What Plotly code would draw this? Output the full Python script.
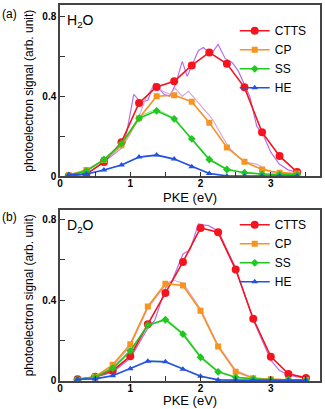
from plotly.subplots import make_subplots
import plotly.graph_objects as go

# ---- panel (a): H2O ----
pke_a = [0.125, 0.375, 0.625, 0.875, 1.125, 1.375, 1.625, 1.875, 2.125, 2.375, 2.625, 2.875, 3.125, 3.375]
ctts_a = [0.0, 0.01, 0.07, 0.17, 0.367, 0.447, 0.475, 0.555, 0.62, 0.563, 0.445, 0.22, 0.10, 0.02]
cp_a = [0.005, 0.03, 0.08, 0.155, 0.29, 0.40, 0.405, 0.373, 0.267, 0.143, 0.072, 0.033, 0.017, 0.013]
ss_a = [0.003, 0.025, 0.083, 0.163, 0.29, 0.327, 0.287, 0.187, 0.083, 0.033, 0.017, 0.01, 0.007, 0.007]
he_a = [0.007, 0.01, 0.03, 0.055, 0.095, 0.105, 0.085, 0.047, 0.013, 0.0, 0.0, 0.0, 0.0, 0.0]

# thin (unsmoothed) curves, panel (a)
fine_ctts_x_a = [0.125, 0.375, 0.625, 0.875, 0.95, 1.05, 1.15, 1.25, 1.34, 1.48, 1.56, 1.64, 1.74, 1.81,
                 1.97, 2.04, 2.15, 2.25, 2.35, 2.45, 2.54, 2.6, 2.7, 2.8, 2.9, 3.0, 3.12, 3.25, 3.375]
fine_ctts_a = [0.0, 0.01, 0.07, 0.14, 0.22, 0.41, 0.37, 0.38, 0.465, 0.41, 0.40, 0.455, 0.575, 0.50,
               0.63, 0.645, 0.61, 0.66, 0.59, 0.57, 0.525, 0.48, 0.40, 0.25, 0.20, 0.12, 0.06, 0.03, 0.02]
fine_cp_x_a = [0.125, 0.375, 0.625, 0.875, 1.0, 1.125, 1.22, 1.34, 1.46, 1.56, 1.64, 1.74, 1.83, 1.97,
               2.1, 2.16, 2.39, 2.55, 2.68, 2.8, 3.0, 3.375]
fine_cp_a = [0.005, 0.03, 0.08, 0.14, 0.21, 0.30, 0.39, 0.46, 0.425, 0.41, 0.44, 0.40, 0.425, 0.367,
             0.31, 0.29, 0.15, 0.09, 0.067, 0.06, 0.02, 0.01]
fine_ss_a = [0.003, 0.025, 0.08, 0.15, 0.30, 0.335, 0.29, 0.19, 0.085, 0.035, 0.017, 0.01, 0.006, 0.006]
fine_he_a = [0.007, 0.01, 0.03, 0.055, 0.095, 0.108, 0.087, 0.048, 0.015, 0.003, 0.0, 0.0, 0.0, 0.0]

# ---- panel (b): D2O ----
pke_b = [0.25, 0.5, 0.75, 1.0, 1.25, 1.5, 1.75, 2.0, 2.25, 2.5, 2.75, 3.0, 3.25, 3.5]
ctts_b = [0.005, 0.018, 0.048, 0.12, 0.28, 0.435, 0.59, 0.76, 0.738, 0.552, 0.307, 0.118, 0.032, 0.012]
cp_b = [0.002, 0.018, 0.077, 0.18, 0.368, 0.482, 0.473, 0.347, 0.168, 0.043, 0.01, 0.005, 0.002, 0.002]
ss_b = [0.005, 0.015, 0.06, 0.147, 0.275, 0.302, 0.23, 0.115, 0.042, 0.015, 0.007, 0.003, 0.003, 0.002]
he_b = [0.005, 0.007, 0.023, 0.057, 0.095, 0.092, 0.055, 0.02, 0.002, 0.0, 0.0, 0.0, 0.0, 0.0]

fine_ctts_x_b = [0.25, 0.5, 0.75, 1.0, 1.25, 1.35, 1.5, 1.6, 1.75, 1.85, 1.97, 2.12, 2.25, 2.5, 2.75,
                 3.0, 3.12, 3.25, 3.5]
fine_ctts_b = [0.005, 0.015, 0.04, 0.11, 0.26, 0.30, 0.46, 0.50, 0.63, 0.65, 0.78, 0.77, 0.745, 0.56, 0.30,
               0.10, 0.05, 0.025, 0.01]
fine_cp_x_b = [0.25, 0.5, 0.75, 1.0, 1.25, 1.5, 1.6, 1.75, 2.0, 2.25, 2.5, 2.75, 3.0, 3.25, 3.5]
fine_cp_b = [0.002, 0.018, 0.07, 0.17, 0.36, 0.475, 0.50, 0.485, 0.355, 0.175, 0.05, 0.012, 0.005, 0.002, 0.002]
fine_ss_b = [0.005, 0.015, 0.055, 0.14, 0.27, 0.31, 0.235, 0.12, 0.045, 0.015, 0.007, 0.003, 0.003, 0.002]
fine_he_b = [0.005, 0.007, 0.025, 0.06, 0.10, 0.095, 0.058, 0.022, 0.003, 0.0, 0.0, 0.0, 0.0, 0.0]

names = ["CTTS", "CP", "SS", "HE"]
colors = ["#f5141e", "#f7931e", "#1ec81e", "#2450e6"]
symbols = ["circle", "square", "diamond", "triangle-up"]
msizes = [8, 6, 6, 6]
fine_colors = ["#b86ee8", "#d8a8e4", "#98ec88", "#a8dcc8"]

FONT = "Liberation Sans, Arial, sans-serif"

fig = make_subplots(rows=2, cols=1, vertical_spacing=0.088)

panels = [
    (1, pke_a, [ctts_a, cp_a, ss_a, he_a],
     [(fine_ctts_x_a, fine_ctts_a), (fine_cp_x_a, fine_cp_a), (pke_a, fine_ss_a), (pke_a, fine_he_a)], "legend"),
    (2, pke_b, [ctts_b, cp_b, ss_b, he_b],
     [(fine_ctts_x_b, fine_ctts_b), (fine_cp_x_b, fine_cp_b), (pke_b, fine_ss_b), (pke_b, fine_he_b)], "legend2"),
]

for row, xs, series, fines, leg in panels:
    # thin raw curves underneath
    for (fx, fy), fc in zip(fines, fine_colors):
        fig.add_trace(go.Scatter(x=fx, y=fy, mode="lines", line=dict(color=fc, width=1.2),
                                 showlegend=False, hoverinfo="skip"), row=row, col=1)
    for ys, nm, c, s, ms in zip(series, names, colors, symbols, msizes):
        fig.add_trace(go.Scatter(x=xs, y=ys, mode="lines+markers", name=nm,
                                 line=dict(color=c, width=1.6),
                                 marker=dict(color=c, symbol=s, size=ms, line=dict(width=0)),
                                 legend=leg), row=row, col=1)

axis_common = dict(showline=True, linecolor="#444444", linewidth=1.5, mirror=True,
                   showgrid=False, zeroline=False, ticks="inside", ticklen=5, tickwidth=1.2,
                   tickcolor="#333333", tickfont=dict(family=FONT, size=10, color="black", weight="bold"))

for row in (1, 2):
    fig.update_xaxes(range=[0, 3.7], tickvals=[0, 1, 2, 3], ticktext=["0", "1", "2", "3"],
                     minor=dict(tickvals=[0.5, 1.5, 2.5, 3.5], ticks="inside", ticklen=5,
                                tickwidth=1.2, tickcolor="#333333"),
                     ticklabelstandoff=-3,
                     row=row, col=1, **axis_common)
fig.update_yaxes(range=[-0.002, 0.858], row=1, col=1)
fig.update_yaxes(range=[-0.0035, 0.8515], row=2, col=1)
fig.update_yaxes(tickvals=[0, 0.4, 0.8], ticktext=["0", "0.4", "0.8"],
                 minor=dict(tickvals=[0.2, 0.6], ticks="inside", ticklen=5, tickwidth=1.2, tickcolor="#333333"),
                 title=dict(text="photoelectron signal (arb. unit)",
                            font=dict(family=FONT, size=12, color="black"), standoff=6),
                 **axis_common)

legend_style = dict(font=dict(family=FONT, size=12, color="black"), bgcolor="rgba(0,0,0,0)",
                    xanchor="left", yanchor="top", tracegroupgap=0, itemwidth=30)
fig.update_layout(
    width=325, height=409,
    margin=dict(l=60, r=3, t=5, b=28),
    paper_bgcolor="white", plot_bgcolor="white",
    font=dict(family=FONT, color="black"),
    legend=dict(x=0.672, y=0.97, **legend_style),
    legend2=dict(x=0.672, y=0.454, **legend_style),
)

# x-axis titles placed just under the tick labels
fig.add_annotation(text="PKE (eV)", xref="paper", yref="paper", x=0.5, y=(381 - 197) / 376,
                   xanchor="center", yanchor="middle", showarrow=False,
                   font=dict(family=FONT, size=13, color="black"))
fig.add_annotation(text="PKE (eV)", xref="paper", yref="paper", x=0.5, y=(381 - 400) / 376,
                   xanchor="center", yanchor="middle", showarrow=False,
                   font=dict(family=FONT, size=13, color="black"))

# panel labels and solvent names
fig.add_annotation(text="(a)", xref="paper", yref="paper", x=-0.229, y=1.0, xanchor="left", yanchor="top",
                   showarrow=False, font=dict(family=FONT, size=12, color="black"))
fig.add_annotation(text="(b)", xref="paper", yref="paper", x=-0.229, y=0.46, xanchor="left", yanchor="top",
                   showarrow=False, font=dict(family=FONT, size=12, color="black"))
fig.add_annotation(text="H<sub>2</sub>O", xref="x domain", yref="y domain", x=0.02, y=0.97,
                   xanchor="left", yanchor="top", showarrow=False, font=dict(family=FONT, size=14, color="black"))
fig.add_annotation(text="D<sub>2</sub>O", xref="x2 domain", yref="y2 domain", x=0.02, y=0.97,
                   xanchor="left", yanchor="top", showarrow=False, font=dict(family=FONT, size=14, color="black"))

# page body has a default 8px margin; remove it so the figure fills the window
fig.write_html("out.html", config={"displayModeBar": False},
               post_script="document.body.style.margin='0';")
